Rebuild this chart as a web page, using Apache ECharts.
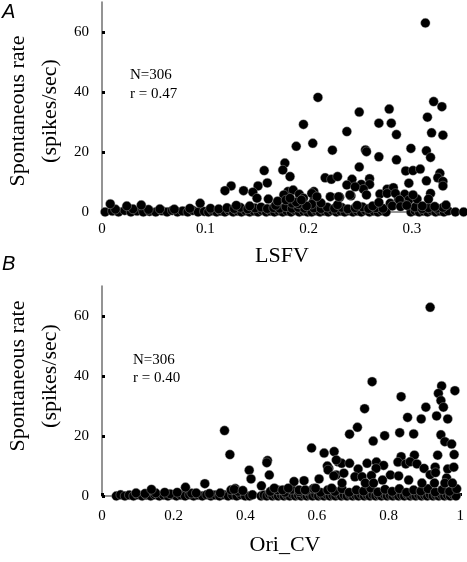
<!DOCTYPE html>
<html><head><meta charset="utf-8">
<script src="https://cdn.jsdelivr.net/npm/echarts@6/dist/echarts.min.js"></script>
<style>html,body{margin:0;padding:0;background:#fff}#c{width:467px;height:562px}</style>
</head><body><div id="c"></div>
<script>
// Panel A: LSFV vs spontaneous rate
const lsfvRaised = [[0.313,63],[0.209,38.2],[0.321,36.8],[0.329,35.1],[0.278,34.3],[0.249,33.3],[0.315,31.6],[0.195,29.2],[0.268,29.6],[0.280,29.6],[0.237,26.8],[0.285,25.8],[0.319,26.4],[0.330,25.6],[0.204,22.9],[0.188,21.9],[0.223,20.6],[0.255,20.7],[0.256,20.1],[0.299,21.2],[0.314,20.4],[0.268,18.4],[0.318,18.2],[0.285,17.4],[0.177,16.3],[0.249,15.0],[0.175,14.0],[0.157,13.8],[0.294,13.7],[0.301,13.8],[0.308,14.3],[0.327,12.9],[0.182,11.8],[0.216,11.4],[0.222,10.9],[0.228,11.8],[0.242,10.9],[0.259,11.1],[0.325,11.4],[0.330,10.2],[0.330,8.7],[0.314,10.4],[0.160,9.7],[0.237,9.0],[0.251,9.2],[0.259,9.2],[0.297,9.6],[0.125,8.7],[0.151,8.7],[0.119,7.1],[0.137,7.1],[0.146,6.6],[0.180,6.8],[0.185,7.3],[0.205,6.8],[0.253,7.6],[0.276,7.6],[0.282,8.1],[0.176,5.7],[0.191,5.9],[0.206,5.1],[0.256,5.7],[0.269,6.0],[0.276,6.2],[0.293,5.9],[0.318,6.2],[0.221,5.1],[0.230,4.9],[0.241,5.4],[0.150,4.6],[0.161,4.3],[0.195,4.6],[0.316,4.3],[0.205,3.7],[0.279,2.9],[0.287,4.3],[0.297,4.0],[0.305,4.3],[0.333,2.3],[0.203,2.6],[0.008,2.7],[0.024,2.0],[0.038,2.3],[0.095,2.9],[0.130,2.2],[0.143,2.0],[0.168,2.2],[0.184,2.9],[0.190,2.7],[0.198,2.0],[0.170,3.6],[0.178,4.0],[0.188,3.3],[0.212,3.0],[0.228,2.4],[0.247,2.2],[0.262,2.0],[0.268,3.2],[0.292,2.5],[0.310,2.0],[0.322,1.8],[0.182,4.6],[0.193,4.0],[0.203,6.2],[0.208,5.1],[0.229,5.1],[0.240,5.7],[0.245,8.4],[0.284,6.2],[0.288,4.0],[0.301,5.7],[0.281,2.0],[0.289,1.8],[0.295,2.2]];
const lsfvBaseline = [[0.003,0],[0.010,0.3],[0.016,0],[0.022,0.5],[0.028,0],[0.034,0.3],[0.040,0],[0.046,0.2],[0.052,0],[0.058,0.4],[0.063,0],[0.068,0.5],[0.073,0],[0.078,0.3],[0.083,0],[0.088,0.5],[0.093,0],[0.099,0.2],[0.013,0.9],[0.030,1.0],[0.045,0.8],[0.056,1.0],[0.070,0.9],[0.085,1.2],
[0.103,0],[0.107,0.4],[0.111,0],[0.115,0.3],[0.119,0],[0.123,0.5],[0.127,0],[0.131,0.3],[0.135,0],[0.139,0.4],[0.143,0],[0.147,0.3],[0.151,0],[0.155,0.5],[0.159,0],[0.163,0.3],[0.167,0],[0.171,0.4],[0.175,0],[0.179,0.3],[0.183,0],[0.187,0.5],[0.191,0],[0.195,0.3],[0.199,0],
[0.105,1.2],[0.113,1.0],[0.121,1.4],[0.128,1.1],[0.134,1.5],[0.141,1.0],[0.148,1.3],[0.154,1.6],[0.160,1.1],[0.166,1.4],[0.172,1.2],[0.178,1.7],[0.184,1.2],[0.190,1.5],[0.196,1.2],
[0.203,0],[0.207,0.4],[0.211,0],[0.215,0.3],[0.219,0],[0.223,0.5],[0.227,0],[0.231,0.3],[0.235,0],[0.239,0.4],[0.243,0],[0.247,0.3],[0.251,0],[0.255,0.5],[0.259,0],[0.263,0.3],[0.267,0],[0.271,0.4],[0.275,0],[0.299,0],[0.303,0.4],[0.307,0],[0.311,0.3],[0.315,0],[0.319,0.5],[0.323,0],[0.327,0.3],[0.331,0],[0.335,0.4],[0.342,0],[0.350,0],
[0.205,1.3],[0.212,1.1],[0.218,1.6],[0.225,1.2],[0.232,1.5],[0.238,1.0],[0.245,1.4],[0.252,1.7],[0.258,1.1],[0.265,1.4],[0.272,1.2],[0.303,1.6],[0.310,1.1],[0.316,1.4],[0.324,1.2],[0.330,1.5]];

// Panel B: Ori_CV vs spontaneous rate
const oriRaised = [[0.916,62.9],[0.754,38.1],[0.948,36.7],[0.985,35.1],[0.939,34.2],[0.835,33.1],[0.946,31.8],[0.953,29.6],[0.904,29.6],[0.733,29.1],[0.853,26.2],[0.891,25.7],[0.934,26.7],[0.965,25.7],[0.713,22.9],[0.691,20.6],[0.789,20.1],[0.831,21.1],[0.870,20.7],[0.946,20.4],[0.757,18.3],[0.957,18.1],[0.976,17.3],[0.648,14.8],[0.872,13.6],[0.835,13.1],[0.937,13.6],[0.983,13.8],[0.659,11.4],[0.669,10.9],[0.691,10.9],[0.740,10.9],[0.766,11.3],[0.786,10.2],[0.826,11.3],[0.848,10.7],[0.860,11.4],[0.879,10.7],[0.715,9.0],[0.765,9.2],[0.899,9.2],[0.930,9.6],[0.965,9.0],[0.982,9.6],[0.654,7.0],[0.675,7.6],[0.706,6.4],[0.726,6.4],[0.752,6.8],[0.783,5.3],[0.805,7.0],[0.828,6.7],[0.856,5.3],[0.916,7.1],[0.931,7.8],[0.962,6.0],[0.633,9.2],[0.670,4.3],[0.735,4.3],[0.758,4.3],[0.893,4.3],[0.928,4.3],[0.957,4.3],[0.978,4.3],
[0.342,21.8],[0.357,13.8],[0.462,11.8],[0.460,11.1],[0.411,8.6],[0.416,5.7],[0.467,7.0],[0.287,4.1],[0.445,3.4],[0.585,16.0],[0.620,14.3],[0.629,10.0],[0.631,8.7],[0.654,12.0],[0.606,5.7],[0.647,6.7],[0.536,4.8],[0.564,5.1],[0.360,2.0],[0.369,2.2],[0.393,1.8],[0.481,2.6],[0.504,2.0],[0.520,2.6],[0.550,2.0],[0.567,2.0],[0.596,2.6],[0.641,2.6],[0.138,2.2],[0.233,2.9],[0.175,1.2],[0.263,1.0]];
const oriBaseline = [[0.040,0],[0.052,0.4],[0.064,0],[0.076,0.3],[0.088,0],[0.100,0.4],[0.112,0],[0.124,0.3],[0.136,0],[0.148,0.4],[0.160,0],[0.172,0.3],[0.184,0],[0.196,0.4],[0.208,0],[0.220,0.3],[0.232,0],[0.244,0.4],[0.256,0],[0.268,0.3],[0.280,0],[0.292,0.4],[0.304,0],[0.316,0.3],[0.328,0],[0.340,0.4],[0.352,0],[0.364,0.3],[0.376,0],[0.388,0.4],[0.400,0],
[0.095,1.0],[0.120,0.8],[0.150,1.0],[0.190,0.7],[0.210,1.2],[0.250,0.9],[0.300,0.8],[0.330,1.0],[0.372,2.5],[0.380,1.5],
[0.412,0],[0.420,0.4],[0.444,0],[0.452,0.3],[0.460,0],[0.468,0.5],[0.476,0],[0.484,0.3],[0.492,0],[0.500,0.4],[0.508,0],[0.516,0.3],[0.524,0],[0.532,0.5],[0.540,0],[0.548,0.3],[0.556,0],[0.564,0.4],[0.572,0],[0.580,0.3],[0.588,0],[0.596,0.5],[0.604,0],[0.612,0.3],[0.620,0],[0.628,0.4],[0.636,0],[0.644,0.3],[0.652,0],[0.660,0.5],[0.668,0],[0.676,0.3],[0.684,0],[0.692,0.4],[0.700,0],[0.708,0.3],[0.716,0],[0.724,0.5],[0.732,0],[0.740,0.3],[0.748,0],[0.756,0.4],[0.764,0],[0.772,0.3],[0.780,0],[0.788,0.5],[0.796,0],[0.804,0.3],[0.812,0],[0.820,0.4],[0.828,0],[0.836,0.3],[0.844,0],[0.852,0.5],[0.860,0],[0.868,0.3],[0.876,0],[0.884,0.4],[0.892,0],[0.900,0.3],[0.908,0],[0.916,0.5],[0.924,0],[0.932,0.3],[0.940,0],[0.948,0.4],[0.956,0],[0.964,0.3],[0.972,0],[0.980,0.5],[0.988,0],
[0.470,1.5],[0.490,2.0],[0.510,1.2],[0.530,2.2],[0.550,1.4],[0.570,1.8],[0.590,2.5],[0.610,1.2],[0.630,2.0],[0.650,1.5],[0.670,2.4],[0.690,1.2],[0.710,2.0],[0.730,1.6],[0.750,2.6],[0.770,1.3],[0.790,2.2],[0.810,1.5],[0.830,2.4],[0.850,1.2],[0.870,2.0],[0.890,1.6],[0.910,2.4],[0.930,1.3],[0.950,2.1],[0.970,1.5],[0.990,2.4]];

const rateTicks = [0, 20, 40, 60];
const lsfvTicks = [0, 0.1, 0.2, 0.3];
const oriTicks = [0, 0.2, 0.4, 0.6, 0.8, 1];
const statsA = ['N=306', 'r = 0.47'];
const statsB = ['N=306', 'r = 0.40'];

const serif = '"Liberation Serif", "Times New Roman", serif';
const axisCol = '#707070';
function fmt(v){ return String(+v.toFixed(2)); }

function xAx(idx, max, ticks){
  return {
    type:'value', gridIndex: idx, min:0, max:max,
    axisLine:{show:true, lineStyle:{color:axisCol, width:1.5}},
    axisTick:{show:true, inside:true, length:3, lineStyle:{color:'#000', width:3}, customValues: ticks.concat([max])},
    axisLabel:{fontFamily:serif, fontSize:15, color:'#000', margin: idx===0?10:13, customValues: ticks, formatter: fmt},
    splitLine:{show:false}
  };
}
function yAx(idx){
  return {
    type:'value', gridIndex: idx, min:0, max:70,
    axisLine:{show:true, lineStyle:{color:axisCol, width:1.5}},
    axisTick:{show:true, inside:true, length:3, lineStyle:{color:'#000', width:3}, customValues: rateTicks},
    axisLabel:{fontFamily:serif, fontSize:15, color:'#000', margin:13, customValues: rateTicks},
    splitLine:{show:false}
  };
}
const dot = {color:'#000', borderColor:'rgba(170,170,170,0.8)', borderWidth:0.5, opacity:1};
function txt(x,y,s,size,extra){
  return {type:'text', x:x, y:y, style:Object.assign({text:s, fill:'#000', font: size+'px '+serif, textAlign:'center', textVerticalAlign:'middle'}, extra||{})};
}

const chart = echarts.init(document.getElementById('c'), null, {renderer:'canvas'});
chart.setOption({
  animation:false,
  backgroundColor:'#fff',
  grid:[
    {left:102, right:3.4, top:2, height:210},
    {left:102, right:5, top:286, height:210}
  ],
  xAxis:[ xAx(0, 0.35, lsfvTicks), xAx(1, 1, oriTicks) ],
  yAxis:[ yAx(0), yAx(1) ],
  series:[
    {type:'scatter', xAxisIndex:0, yAxisIndex:0, symbolSize:9.5, itemStyle:dot, clip:false, data: lsfvBaseline.concat(lsfvRaised)},
    {type:'scatter', xAxisIndex:1, yAxisIndex:1, symbolSize:9.5, itemStyle:dot, clip:false, data: oriBaseline.concat(oriRaised)}
  ],
  graphic:[
    {type:'text', x:2, y:2, style:{text:'A', fill:'#000', font:'italic 20px "Liberation Sans", Arial, sans-serif'}},
    {type:'text', x:2, y:254, style:{text:'B', fill:'#000', font:'italic 20px "Liberation Sans", Arial, sans-serif'}},
    txt(18, 111, 'Spontaneous rate', 22),
    txt(50, 111, '(spikes/sec)', 22),
    txt(18, 376, 'Spontaneous rate', 22),
    txt(50, 376, '(spikes/sec)', 22),
    txt(282, 256, 'LSFV', 22),
    txt(285, 545, 'Ori_CV', 22),
    {type:'text', x:130, y:75, style:{text:statsA[0], fill:'#000', font:'15px '+serif, textVerticalAlign:'middle'}},
    {type:'text', x:130, y:94, style:{text:statsA[1], fill:'#000', font:'15px '+serif, textVerticalAlign:'middle'}},
    {type:'text', x:133, y:360, style:{text:statsB[0], fill:'#000', font:'15px '+serif, textVerticalAlign:'middle'}},
    {type:'text', x:133, y:378, style:{text:statsB[1], fill:'#000', font:'15px '+serif, textVerticalAlign:'middle'}}
  ].map(function(g, i){ if (i>=2 && i<=5) { g.rotation = Math.PI/2; } return g; })
});
</script>
</body></html>
